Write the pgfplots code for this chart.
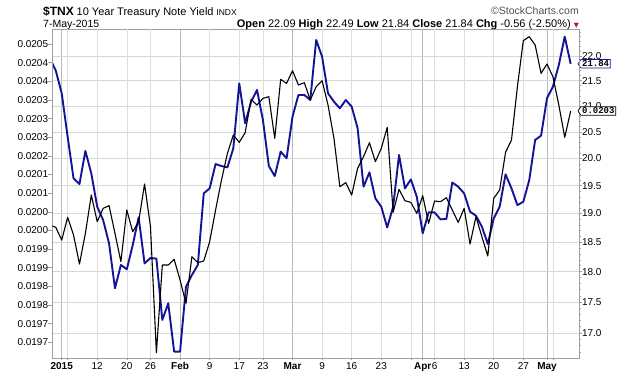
\documentclass[border=0pt]{standalone}
\usepackage{fontspec}
\setmainfont{Liberation Sans}
\newfontfamily\dejavu{DejaVu Sans}
\newfontfamily\monob{Liberation Mono}
\usepackage{pgfplots}
\pgfplotsset{compat=1.18}
\usepackage{pgfplotstable}
\usetikzlibrary{shapes.symbols}
\definecolor{tnxblue}{RGB}{20,20,150}
\definecolor{framegray}{RGB}{160,160,160}
\definecolor{gridmonth}{RGB}{185,185,185}
\definecolor{gridweek}{RGB}{222,222,222}
\definecolor{gridh}{RGB}{215,215,215}
\definecolor{arrowred}{RGB}{170,20,55}
\definecolor{scgray}{RGB}{80,80,80}

\pgfplotstableread{
i blue black
-2 21.952 0.0200145
-1 21.702 0.0200083
0 21.249 0.0199743
1 20.409 0.0200351
2 19.632 0.0199877
3 19.529 0.0199099
4 20.139 0.0199922
5 19.724 0.0200950
6 19.122 0.0200235
7 18.886 0.0200592
8 18.480 0.0200664
9 17.722 0.0199922
10 18.111 0.0199162
11 18.038 0.0200548
12 18.452 0.0199967
13 18.933 0.0200235
14 18.139 0.0201245
15 18.230 0.0200101
16 18.219 0.0196721
17 17.208 0.0199072
18 17.477 0.0199072
19 16.708 0.0199224
20 16.708 0.0198670
21 17.750 0.0198044
22 17.944 0.0199296
23 18.111 0.0199135
24 19.360 0.0199180
25 19.451 0.0199698
26 19.896 0.0200548
27 19.859 0.0201352
28 19.834 0.0202067
29 20.189 0.0202559
30 21.447 0.0202362
31 20.664 0.0202622
32 21.084 0.0203516
33 21.315 0.0203364
34 20.728 0.0203542
35 19.859 0.0203587
36 19.675 0.0202470
37 20.126 0.0204052
38 20.001 0.0203945
39 20.792 0.0204285
40 21.216 0.0203900
41 21.216 0.0203963
42 21.117 0.0203498
43 22.330 0.0203855
44 21.986 0.0204016
45 21.249 0.0203364
46 21.084 0.0202470
47 20.954 0.0201173
48 21.117 0.0201281
49 20.987 0.0200950
50 20.568 0.0201665
51 19.481 0.0201978
52 19.742 0.0202353
53 19.270 0.0201844
54 19.122 0.0202201
55 18.757 0.0202765
56 19.122 0.0200485
57 20.064 0.0201102
58 19.451 0.0200798
59 19.614 0.0200753
60 19.300 0.0200458
61 18.653 0.0200932
62 19.021 0.0200190
63 19.021 0.0200789
64 18.897 0.0200771
65 18.906 0.0200878
66 19.560 0.0200548
67 19.481 0.0200217
68 19.360 0.0200592
69 19.033 0.0199636
70 18.962 0.0200369
71 18.769 0.0199832
72 18.469 0.0199314
73 18.915 0.0200860
74 19.122 0.0201084
75 19.706 0.0202094
76 19.451 0.0202425
77 19.151 0.0203855
78 19.211 0.0205089
79 19.602 0.0205196
80 20.346 0.0204973
81 20.428 0.0204213
82 21.150 0.0204463
83 21.381 0.0204124
84 21.816 0.0203364
85 22.400 0.0202497
86 21.840 0.0203203
}\datatable

\begin{document}
\begin{tikzpicture}
\useasboundingbox (0,0) rectangle (620pt,376pt);

% right (blue, log) axis with grid and x axis
\begin{axis}[
  at={(52.3pt,18pt)}, anchor=south west,
  scale only axis, width=527pt, height=328.7pt,
  xmin=-1.59, xmax=87.46,
  ymode=log, ymin=16.609, ymax=22.554,
  clip mode=individual,
  axis line style={framegray},
  tick align=outside, major tick length=2.5pt, minor tick length=1.5pt,
  tick style={framegray, line width=0.5pt},
  xtick pos=bottom, ytick pos=right, yticklabel pos=right,
  xtick={0,20,39,61,82},
  xticklabels={\textbf{2015},\textbf{Feb},\textbf{Mar},\textbf{Apr},\textbf{May}},
  extra x ticks={1,6,11,15,25,30,34,44,49,54,59,63,68,73,78,83},
  extra x tick labels={,12,20,26,9,17,23,9,16,23,,6,13,20,27,},
  extra x tick style={x grid style={gridweek}},
  minor xtick={-1,0,...,87},
  ytick={17,17.5,18,18.5,19,19.5,20,20.5,21,21.5,22},
  yticklabels={17.0,17.5,18.0,18.5,19.0,19.5,20.0,20.5,21.0,21.5,22.0},
  minor ytick={16.7,16.8,16.9,17.1,17.2,17.3,17.4,17.6,17.7,17.8,17.9,18.1,18.2,18.3,18.4,18.6,18.7,18.8,18.9,19.1,19.2,19.3,19.4,19.6,19.7,19.8,19.9,20.1,20.2,20.3,20.4,20.6,20.7,20.8,20.9,21.1,21.2,21.3,21.4,21.6,21.7,21.8,21.9,22.1,22.2,22.3,22.4,22.5},
  xmajorgrids, ymajorgrids,
  x grid style={gridmonth, line width=0.6pt},
  y grid style={gridh, line width=0.6pt},
  yticklabel style={font=\fontsize{10}{12}\selectfont, inner sep=0pt, anchor=west},
  xticklabel style={font=\fontsize{10}{12}\selectfont, inner sep=0pt, anchor=north, yshift=-1.5pt},
  /pgf/number format/assume math mode=true,
]
\addplot[tnxblue, line width=1.9pt, line join=round] table[x=i, y=blue] {\datatable};
\node[signal, signal to=west, signal pointer angle=110, draw=tnxblue, fill=white, line width=0.7pt,
      inner sep=1.2pt, font=\monob\bfseries\fontsize{9}{10}\selectfont, anchor=west, xshift=-1.8pt]
      at (axis cs:87.46,21.84) {21.84};
\end{axis}

% left (black) axis
\begin{axis}[
  at={(52.3pt,18pt)}, anchor=south west,
  scale only axis, width=527pt, height=328.7pt,
  xmin=-1.59, xmax=87.46,
  ymin=0.0196579, ymax=0.0205394,
  clip mode=individual,
  hide x axis,
  axis line style={framegray},
  scaled y ticks=false,
  tick align=outside, major tick length=4pt,
  tick style={framegray, line width=0.5pt},
  ytick pos=left, yticklabel pos=left,
  ytick={0.0197,0.01975,0.0198,0.01985,0.0199,0.01995,0.02,0.02005,0.0201,0.02015,0.0202,0.02025,0.0203,0.02035,0.0204,0.02045,0.0205},
  yticklabels={0.0197,0.0197,0.0198,0.0198,0.0199,0.0199,0.0200,0.0200,0.0201,0.0201,0.0202,0.0203,0.0203,0.0203,0.0204,0.0204,0.0205},
  yticklabel style={font=\fontsize{10}{12}\selectfont, inner sep=0pt, anchor=east},
  /pgf/number format/assume math mode=true,
]
\addplot[black, line width=1.1pt, line join=round] table[x=i, y=black] {\datatable};
\node[signal, signal to=west, signal pointer angle=110, draw=black, fill=white, line width=0.7pt,
      inner sep=1.2pt, font=\monob\bfseries\fontsize{9}{10}\selectfont, anchor=west, xshift=-1.8pt]
      at (axis cs:87.46,0.0203203) {0.0203};
\end{axis}

% header
\node[anchor=base west, inner sep=0pt] at (43pt,361pt)
  {{\fontsize{12}{14}\selectfont\bfseries \$TNX} {\fontsize{11}{13}\selectfont 10 Year Treasury Note Yield} {\fontsize{8.5}{10}\selectfont INDX}};
\node[anchor=base west, inner sep=0pt] at (43pt,349pt)
  {\fontsize{10.5}{12}\selectfont 7-May-2015};
\node[anchor=base east, inner sep=0pt, text=scgray] at (579pt,362pt)
  {\fontsize{10.5}{12}\selectfont \textcopyright StockCharts.com};
\node[anchor=base east, inner sep=0pt] at (579pt,349pt)
  {\fontsize{11}{13}\selectfont \textbf{Open} 22.09 \textbf{High} 22.49 \textbf{Low} 21.84 \textbf{Close} 21.84 \textbf{Chg} -0.56 (-2.50\%) {\dejavu\fontsize{6.5}{8}\selectfont\color{arrowred}▼}};
\end{tikzpicture}
\end{document}
